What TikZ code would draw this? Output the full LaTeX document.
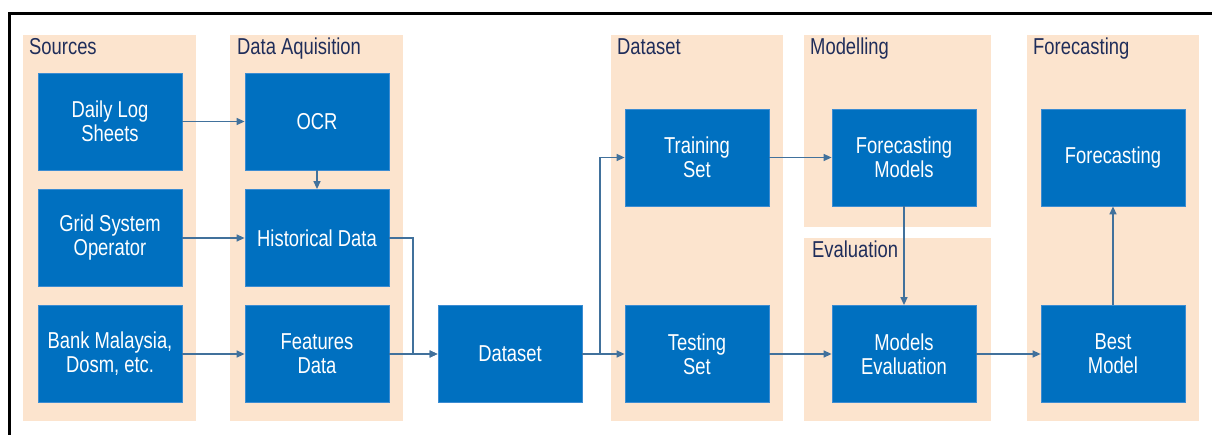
\documentclass[tikz,border=0pt]{standalone}
\usepackage{fontspec}
\setmainfont{Liberation Sans}
\newfontfamily\nar[FakeStretch=0.8]{Liberation Sans}
\usetikzlibrary{arrows.meta}
\definecolor{peach}{RGB}{252,228,206}
\definecolor{boxblue}{RGB}{0,112,192}
\definecolor{boxedge}{RGB}{60,140,210}
\definecolor{arrcol}{RGB}{65,113,156}
\definecolor{navy}{RGB}{31,45,90}
\tikzset{
  panel/.style={fill=peach, draw=none},
  blk/.style={fill=boxblue, draw=boxedge, line width=0.8pt, minimum width=144pt, minimum height=97pt,
    inner sep=0pt, text=white, align=center, font=\nar\fontsize{23}{24}\selectfont},
  ptitle/.style={anchor=base west, inner sep=0pt, text=navy, font=\nar\fontsize{23}{24}\selectfont},
  arr/.style={draw=arrcol, line width=1.4pt, -{Triangle[length=8pt,width=7pt]}},
}
\begin{document}
\begin{tikzpicture}[x=1pt,y=-1pt]
\useasboundingbox (0,0) rectangle (1212,435);
% frame
\draw[line width=3pt] (9.5,435) -- (9.5,13.3) -- (1212,13.3);
% panels
\fill[panel] (23,35) rectangle (196,421);
\fill[panel] (230,35) rectangle (403,421);
\fill[panel] (611,35) rectangle (783,421);
\fill[panel] (804,35) rectangle (991,227);
\fill[panel] (804,238) rectangle (991,421);
\fill[panel] (1027,35) rectangle (1199,421);
% titles
\node[ptitle] (tsrc) at (29,55) {Sources};
\node[ptitle] (tacq) at (237,55) {Data Aquisition};
\node[ptitle] (tds) at (617,55) {Dataset};
\node[ptitle] (tmod) at (810,55) {Modelling};
\node[ptitle] (teval) at (812,258) {Evaluation};
\node[ptitle] (tfc) at (1033,55) {Forecasting};
% boxes
\node[blk] (daily) at (110,121.5) {Daily Log\\Sheets};
\node[blk] (grid) at (110,238) {Grid System\\Operator};
\node[blk] (bank) at (110,354) {Bank Malaysia,\\Dosm, etc.};
\node[blk] (ocr) at (317,121.5) {OCR};
\node[blk] (hist) at (317,238) {Historical Data};
\node[blk] (feat) at (317,354) {Features\\Data};
\node[blk] (dsb) at (510,354) {Dataset};
\node[blk] (train) at (697,157.5) {Training\\Set};
\node[blk] (test) at (697,354) {Testing\\Set};
\node[blk] (fm) at (904,157.5) {Forecasting\\Models};
\node[blk] (me) at (904,354) {Models\\Evaluation};
\node[blk] (fc) at (1113,157.5) {Forecasting};
\node[blk] (best) at (1113,354) {Best\\Model};
% junctions
\coordinate (j1) at (413,238);
\coordinate (j2) at (600,354);
% connectors
\draw[arr] (daily) -- (ocr);
\draw[arr] (ocr) -- (hist);
\draw[arr] (grid) -- (hist);
\draw[arr] (hist.east) -- (j1) |- (dsb.west);
\draw[arr] (bank) -- (feat);
\draw[arr] (feat) -- (dsb);
\draw[arr] (dsb.east) -- (j2) |- (train.west);
\draw[arr] (dsb) -- (test);
\draw[arr] (train) -- (fm);
\draw[arr] (fm) -- (me);
\draw[arr] (test) -- (me);
\draw[arr] (me) -- (best);
\draw[arr] (best) -- (fc);
\end{tikzpicture}
\end{document}
